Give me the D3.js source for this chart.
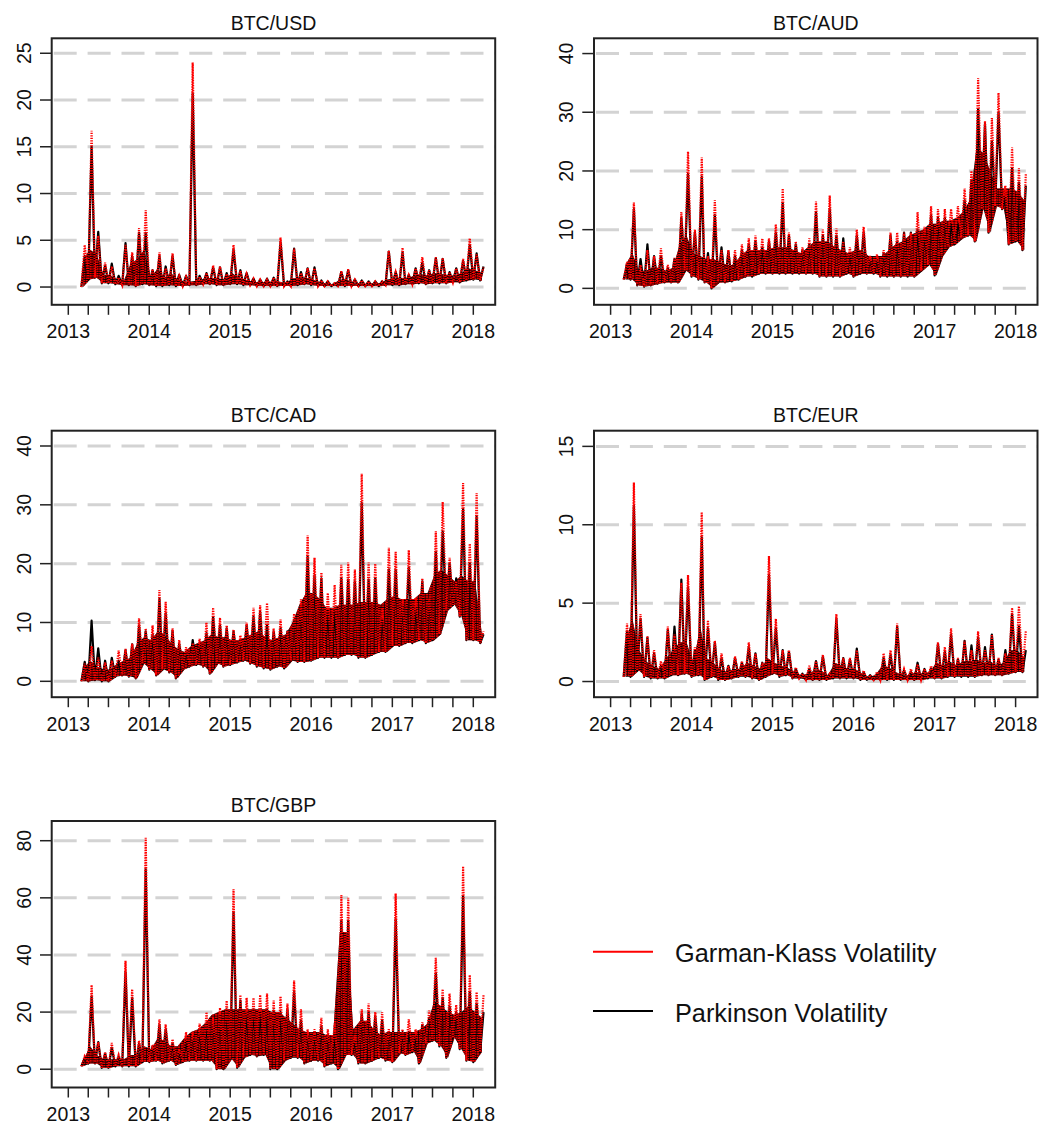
<!DOCTYPE html>
<html>
<head>
<meta charset="utf-8">
<script src="https://cdn.jsdelivr.net/npm/d3@7"></script>
<style>
  body { margin: 0; background: #fff; }
  text { font-family: "Liberation Sans", Arial, sans-serif; fill: #111; }
</style>
</head>
<body>
<svg id="chart"></svg>
<script>
// monthly readings, index 0 = March 2013 ... 59 = February 2018
// PkHi / GkHi = highest daily value in the month, Lo = lowest one,
// Core = top of the dense band where most days of the month sit
const usdPkHi = [3.3, 15, 5.9, 2.3, 2.5, 1.2, 4.7, 3.3, 5.8, 5.8,
  1.8, 3.3, 2.2, 3.3, 1.3, 1.2, 20.7, 1.2, 1.5, 2.1,
  2.1, 1.5, 4.0, 1.8, 1.5, 0.9, 0.8, 0.9, 1.0, 4.8,
  0.6, 4.1, 1.6, 2.0, 2.1, 0.7, 0.6, 0.4, 1.6, 1.8,
  0.8, 0.7, 0.6, 0.6, 0.6, 3.8, 1.6, 3.7, 1.3, 2.0,
  2.6, 1.8, 3.1, 3.0, 1.6, 2.0, 2.8, 4.5, 3.6, 2.2];
const usdGkHi = [4.5, 16.7, 5.5, 2.6, 2.2, 1.0, 4.5, 3.7, 6.3, 8.2,
  1.9, 3.7, 2.0, 3.6, 1.2, 1.1, 24.0, 1.1, 1.5, 2.3,
  2.2, 1.4, 4.5, 1.7, 1.4, 0.9, 0.8, 0.8, 1.0, 5.3,
  0.6, 4.1, 1.5, 2.0, 2.0, 0.7, 0.6, 0.4, 1.7, 1.9,
  0.8, 0.7, 0.6, 0.6, 0.6, 3.9, 1.6, 4.2, 1.3, 2.0,
  3.2, 1.8, 3.2, 3.1, 1.6, 2.0, 3.0, 5.2, 3.5, 2.1];
const usdLo = [0, 0.8, 1.0, 0.4, 0.4, 0.3, 0.2, 0.2, 0.1, 0.3,
  0.2, 0.1, 0.1, 0.2, 0.1, 0.1, 0.2, 0.2, 0.3, 0.3,
  0.2, 0.2, 0.3, 0.3, 0.2, 0.2, 0.1, 0.1, 0.1, 0.1,
  0.1, 0.1, 0.2, 0.3, 0.2, 0.1, 0.1, 0.1, 0.1, 0.1,
  0.1, 0.1, 0.1, 0.1, 0.1, 0.2, 0.2, 0.2, 0.3, 0.3,
  0.4, 0.3, 0.4, 0.4, 0.4, 0.5, 0.5, 0.7, 0.8, 0.7];
const usdCore = [3.0, 4.0, 3.5, 1.3, 1.3, 0.8, 0.7, 2.5, 3.0, 4.0,
  1.0, 2.0, 1.0, 1.5, 0.8, 0.6, 0.6, 0.7, 0.9, 1.0,
  0.9, 0.8, 1.5, 1.0, 0.8, 0.6, 0.5, 0.5, 0.6, 0.6,
  0.4, 0.9, 1.0, 1.0, 0.8, 0.5, 0.4, 0.3, 0.8, 0.8,
  0.4, 0.4, 0.3, 0.4, 0.4, 0.8, 0.9, 1.0, 0.9, 1.2,
  1.4, 1.2, 1.5, 1.4, 1.3, 1.2, 1.5, 2.0, 1.8, 1.5];

const audPkHi = [4, 13.5, 5, 7.5, 5.5, 5.5, 3.5, 5, 12, 19.5,
  9.5, 19, 6, 12.5, 7, 6.3, 5.5, 6.5, 7.5, 8,
  7, 8, 9.5, 14.5, 9, 7.5, 6.5, 7.5, 13, 9,
  13.5, 9, 8.5, 6, 9, 9.5, 5, 5, 6, 9,
  8, 9.5, 9.5, 10, 9.5, 12.5, 12, 12, 11, 11,
  15, 18.5, 30.5, 28, 25, 30, 15.5, 20.5, 18, 17.5];
const audGkHi = [4.5, 14.6, 4, 6.5, 5.5, 6.8, 4, 5.2, 13, 23.3,
  10, 22.3, 5.5, 15, 6.5, 6.5, 6.5, 7.5, 8.5, 9,
  8.5, 8.5, 10.9, 17, 9.5, 8, 7, 8.5, 14.8, 10,
  15.8, 10.2, 8, 7, 10, 10.5, 5.5, 5.8, 6.5, 9.5,
  9.5, 9.5, 9.5, 13, 10.5, 14, 13.5, 13.5, 13.5, 14,
  17, 20, 35.8, 28.5, 29, 33.3, 17.5, 24, 20.5, 19.5];
const audLo = [1.5, 1.5, 0.5, 0.3, 0.5, 0.8, 1, 1, 1, 3,
  2, 1.5, 1, 0, 1, 1, 1.2, 1.5, 2, 2,
  2.5, 2.5, 2.5, 2.5, 2.5, 2.5, 2.5, 2.5, 2.5, 2,
  2, 2, 2, 2.5, 2, 2.5, 2.5, 2.5, 2, 2,
  2, 2, 2, 2, 3, 4, 2.2, 5.5, 7, 7.5,
  8.5, 9, 8, 13.5, 9.5, 14, 13.5, 7.5, 8, 6.5];
const audCore = [4, 6, 3, 3, 3.5, 3.5, 3, 3.5, 7.5, 9,
  6, 5.5, 5, 5, 4.5, 4, 4, 5.5, 6.5, 6.5,
  6.5, 6.5, 7, 7, 7, 6.5, 6, 7, 8, 8,
  8, 7, 6.5, 6, 6.5, 6.5, 5.5, 5.5, 5.5, 6.5,
  7.5, 8, 9, 9.5, 10, 11, 11, 11.5, 11.5, 12,
  13, 15, 24, 23, 20, 17, 17, 17, 16.5, 15];

const cadPkHi = [3.3, 10.3, 5.6, 3.5, 4.0, 3.5, 5.3, 6.3, 9.5, 8.5,
  8.0, 14, 11.5, 8.6, 6.4, 5.0, 7.0, 6.5, 8.2, 10.9,
  9.5, 9.0, 8.5, 7.0, 9.5, 11, 11.8, 9.6, 8.5, 9.0,
  8.5, 10.5, 12.5, 21.2, 18, 17.5, 12, 12, 17.5, 17.3,
  17, 30.3, 17.3, 17.5, 10.5, 19, 19, 13, 19.3, 12.5,
  17, 13.5, 22, 25.5, 20, 17.5, 29.3, 20, 28, 8];
const cadGkHi = [3.0, 6.0, 4.0, 3.2, 3.5, 5.2, 5.5, 6.4, 10.7, 9.0,
  9.5, 15.5, 13.5, 9.0, 7.0, 5.8, 6.5, 7.2, 10, 12.5,
  10.8, 9.5, 8.8, 7.8, 10, 12.5, 12.9, 13.3, 9.0, 10.5,
  8.6, 11.5, 14, 24.8, 21, 18.5, 15, 16.4, 19.8, 20.2,
  19, 35.3, 20.2, 20, 12.5, 22.7, 22, 14, 22.3, 14.2,
  17.5, 14, 25.5, 30.5, 21, 17, 33.7, 23.4, 32, 8.5];
const cadLo = [0, 0, 0.2, 0, 0, 0.8, 1.0, 0.8, 0.5, 3.0,
  2.0, 1.0, 2.0, 1.5, 0.5, 2.0, 2.5, 2.8, 2.5, 1.3,
  3.0, 2.5, 2.8, 3.2, 3.5, 3.0, 2.5, 2.2, 2.0, 2.5,
  2.2, 3.5, 3.3, 3.3, 3.5, 4.0, 4.0, 4.0, 4.0, 4.5,
  4.5, 4.0, 4.0, 4.5, 5.0, 5.0, 6.0, 6.0, 6.5, 6.5,
  7.0, 6.5, 7.0, 8.0, 12, 13, 11, 7.0, 7.0, 6.5];
const cadCore = [2, 3.5, 2.5, 2, 2, 3, 3.5, 4, 6.5, 7.5,
  7, 8.5, 8, 6.5, 5.5, 5, 6, 6.5, 7, 8,
  7.5, 7.5, 7, 7, 7.5, 8, 8.5, 7.5, 7, 7.5,
  8, 10, 13, 15, 15, 14, 12.5, 12.5, 13, 13,
  13, 13.5, 13.5, 13.5, 13, 14, 14.5, 14, 14, 14,
  15, 15, 18, 19, 18, 17, 18, 17, 17, 8];

const eurPkHi = [3.2, 11.2, 4.0, 2.8, 1.8, 1.0, 3.3, 3.5, 6.5, 6.0,
  2.0, 9.2, 3.4, 2.5, 1.5, 1.0, 1.5, 1.2, 2.2, 1.8,
  1.2, 6.8, 3.4, 2.0, 1.9, 0.8, 0.5, 0.8, 1.3, 1.6,
  0.5, 4.0, 1.5, 1.4, 2.1, 0.6, 0.4, 0.5, 1.5, 1.7,
  3.5, 0.7, 0.6, 1.2, 0.8, 0.8, 2.4, 1.9, 3.0, 1.4,
  2.6, 2.3, 2.8, 2.2, 3.0, 1.4, 2.0, 4.3, 3.5, 2.0];
const eurGkHi = [3.7, 12.7, 4.3, 2.9, 2.0, 1.3, 3.5, 3.0, 6.3, 6.8,
  2.2, 10.8, 3.9, 2.6, 1.8, 1.0, 1.6, 1.3, 2.5, 1.8,
  1.2, 8.0, 4.0, 2.0, 2.0, 0.9, 0.5, 1.0, 1.3, 1.7,
  0.5, 4.3, 1.5, 1.5, 2.0, 0.7, 0.4, 0.6, 1.8, 2.0,
  3.7, 0.8, 0.8, 1.1, 0.8, 1.0, 2.5, 2.2, 3.4, 1.5,
  2.6, 2.0, 3.2, 2.0, 3.0, 1.5, 1.8, 4.7, 4.8, 3.2];
const eurLo = [0.3, 0.3, 0.7, 0.3, 0.2, 0.2, 0.2, 0.4, 0.4, 0.5,
  0.3, 0.4, 0.1, 0.3, 0.1, 0.1, 0.2, 0.3, 0.3, 0.2,
  0.1, 0.3, 0.5, 0.3, 0.4, 0.2, 0.2, 0.1, 0.1, 0.1,
  0.1, 0.2, 0.2, 0.2, 0.2, 0.1, 0.1, 0.1, 0.1, 0.1,
  0.1, 0.1, 0.1, 0.1, 0.1, 0.2, 0.2, 0.2, 0.3, 0.3,
  0.3, 0.3, 0.3, 0.4, 0.4, 0.4, 0.4, 0.5, 0.6, 0.6];
const eurCore = [2.5, 4, 2, 1.3, 1.0, 0.8, 1.5, 2.0, 2.5, 2.5,
  1.2, 3.5, 1.5, 1.2, 0.8, 0.6, 0.8, 0.8, 1.2, 1.0,
  0.8, 1.5, 1.2, 1.0, 0.9, 0.6, 0.4, 0.5, 0.7, 0.7,
  0.4, 1.2, 1.0, 0.8, 0.8, 0.5, 0.3, 0.4, 1.0, 0.9,
  0.6, 0.4, 0.4, 0.6, 0.5, 0.6, 1.2, 1.0, 1.3, 1.0,
  1.3, 1.3, 1.4, 1.2, 1.3, 1.0, 1.2, 2.0, 2.0, 1.5];

const gbpPkHi = [4, 25.5, 9.5, 5.5, 7.5, 4.5, 34, 25, 9, 70,
  8, 15.5, 14, 9, 6, 10.5, 12, 14, 16, 17,
  19, 21, 55, 24, 20, 21, 20, 21, 20.5, 20,
  21, 27, 17, 12, 12, 15, 12, 12, 52, 52,
  10, 19.5, 20, 18.5, 17, 13, 52.5, 13, 13, 12,
  15.5, 18, 33.5, 25, 22, 20, 60.5, 27, 23, 20];
const gbpGkHi = [4.5, 29.5, 9.5, 6, 9.2, 5, 38, 28, 10, 81,
  8.5, 17.5, 15.7, 10.5, 7, 13, 13, 16, 20, 18,
  21.5, 24, 63, 26, 25, 25, 26, 26.5, 24, 25.5,
  23, 31, 21, 14, 14, 18, 14, 16, 61, 60,
  12, 21, 23, 20, 20, 14, 61.5, 14, 17.5, 14,
  16.5, 20.5, 39, 28, 26.5, 22.5, 71, 33, 27, 26];
const gbpLo = [1, 2, 2, 0.5, 0.5, 1, 1, 1, 1, 2.5,
  2.5, 3, 2, 3, 1.5, 2.5, 3, 3, 3, 3,
  0, 0, 3.5, 0.5, 4, 5, 4.5, 5, 0, 0,
  3, 4, 4, 2, 3, 3, 1, 2, 0, 5,
  5, 2, 2, 3, 4, 3, 2.5, 5.5, 5, 6,
  2, 9, 10, 8, 4, 11, 7, 3, 2.5, 6];
const gbpCore = [3, 8, 5, 3.5, 3.5, 3.5, 3.5, 5, 5, 8,
  7, 11, 10, 8, 8, 11, 13, 14, 16, 19,
  20, 21, 21, 21, 21, 21, 21, 21, 20, 20,
  18, 16, 14, 13, 13, 13, 12, 12, 48, 48,
  14, 17, 17, 14, 12, 13, 13, 13, 13, 13,
  14, 16, 24, 22, 20, 19, 20, 22, 20, 18];

const usdTicks = [0, 5, 10, 15, 20, 25];
const audTicks = [0, 10, 20, 30, 40];
const cadTicks = [0, 10, 20, 30, 40];
const eurTicks = [0, 5, 10, 15];
const gbpTicks = [0, 20, 40, 60, 80];
const yearLabels = [2013, 2014, 2015, 2016, 2017, 2018];
const legendLabels = ["Garman-Klass Volatility", "Parkinson Volatility"];

// page layout
const width = 1042;
const height = 1127;
const colLeft = [51.7, 594];
const rowTop = [38.3, 430.7, 821];
const plotW = 443.5;
const plotH = 266.5;

const panels = [
  { title: "BTC/USD", pk: usdPkHi, gk: usdGkHi, lo: usdLo, core: usdCore, ticks: usdTicks, ylim: [-1.9, 26.6], col: 0, row: 0 },
  { title: "BTC/AUD", pk: audPkHi, gk: audGkHi, lo: audLo, core: audCore, ticks: audTicks, ylim: [-2.8, 42.6], col: 1, row: 0 },
  { title: "BTC/CAD", pk: cadPkHi, gk: cadGkHi, lo: cadLo, core: cadCore, ticks: cadTicks, ylim: [-2.7, 42.6], col: 0, row: 1 },
  { title: "BTC/EUR", pk: eurPkHi, gk: eurGkHi, lo: eurLo, core: eurCore, ticks: eurTicks, ylim: [-1.0, 16.0], col: 1, row: 1 },
  { title: "BTC/GBP", pk: gbpPkHi, gk: gbpGkHi, lo: gbpLo, core: gbpCore, ticks: gbpTicks, ylim: [-6.4, 86.9], col: 0, row: 2 }
];

const months = d3.range(usdLo.length).map(i => new Date(2013, 2 + i, 1));

// lowest value at the start of the month, highest around the middle
function toSeries(hi, lo) {
  const pts = [];
  months.forEach((m, i) => {
    pts.push({ date: m, v: lo[i] });
    pts.push({ date: d3.timeDay.offset(m, 15), v: hi[i] });
  });
  return pts;
}

const svg = d3.select('svg#chart').attr('width', width).attr('height', height);

// red dotted texture for the dense part of the Garman-Klass series
const defs = svg.append('defs');
defs.append('pattern').attr('id', 'gkDots')
  .attr('patternUnits', 'userSpaceOnUse')
  .attr('width', 3.4).attr('height', 2.3)
  .append('rect').attr('width', 2.8).attr('height', 1.4).attr('fill', '#ff0000');

const x = d3.scaleTime()
  .domain([new Date(2013, 0, 1), new Date(2018, 0, 1)])
  .range([16.6, 421.6]);
const quarterTicks = d3.timeMonth.every(3).range(new Date(2013, 0, 1), new Date(2018, 0, 2));

panels.forEach((p, k) => {
  const g = svg.append('g')
    .attr('transform', 'translate(' + colLeft[p.col] + ',' + rowTop[p.row] + ')');

  const y = d3.scaleLinear().domain(p.ylim).range([plotH, 0]);

  g.append('clipPath').attr('id', 'clip' + k)
    .append('rect').attr('width', plotW).attr('height', plotH);

  // dashed grey reference lines
  g.append('g').selectAll('line').data(p.ticks).enter().append('line')
    .attr('x1', 2).attr('x2', plotW)
    .attr('y1', d => y(d)).attr('y2', d => y(d))
    .attr('stroke', '#d3d3d3').attr('stroke-width', 3)
    .attr('stroke-dasharray', '23 10.9');

  const data = g.append('g').attr('clip-path', 'url(#clip' + k + ')');

  // dense band: lowest value up to the core level of each month
  const band = months.map((m, i) => ({ date: d3.timeDay.offset(m, 8), lo: p.lo[i], top: p.core[i] }));
  const area = d3.area().x(d => x(d.date)).y0(d => y(d.lo)).y1(d => y(d.top));
  data.append('path').attr('d', area(band)).attr('fill', '#000');
  data.append('path').attr('d', area(band)).attr('fill', 'url(#gkDots)');

  const line = d3.line().x(d => x(d.date)).y(d => y(d.v));

  data.append('path')
    .attr('d', line(toSeries(p.pk, p.lo)))
    .attr('fill', 'none').attr('stroke', '#000')
    .attr('stroke-width', 2.2).attr('stroke-linejoin', 'round');

  data.append('path')
    .attr('d', line(toSeries(p.gk, p.lo)))
    .attr('fill', 'none').attr('stroke', '#ff0000')
    .attr('stroke-width', 2.2).attr('stroke-dasharray', '1.4 1.1');

  // frame
  g.append('rect').attr('width', plotW).attr('height', plotH)
    .attr('fill', 'none').attr('stroke', '#222').attr('stroke-width', 2);

  // y axis
  g.append('g').selectAll('line').data(p.ticks).enter().append('line')
    .attr('x1', -11.7).attr('x2', 0)
    .attr('y1', d => y(d)).attr('y2', d => y(d))
    .attr('stroke', '#222').attr('stroke-width', 1.5);
  g.append('g').selectAll('text').data(p.ticks).enter().append('text')
    .attr('transform', d => 'translate(-20.7,' + y(d) + ') rotate(-90)')
    .attr('text-anchor', 'middle')
    .style('font-size', '19.5px')
    .text(d => d);

  // x axis
  g.append('g').selectAll('line').data(quarterTicks).enter().append('line')
    .attr('x1', d => x(d)).attr('x2', d => x(d))
    .attr('y1', plotH).attr('y2', plotH + 10)
    .attr('stroke', '#222').attr('stroke-width', 1.5);
  g.append('g').selectAll('text').data(yearLabels).enter().append('text')
    .attr('x', d => x(new Date(d, 0, 1)))
    .attr('y', plotH + 33.5)
    .attr('text-anchor', 'middle')
    .style('font-size', '19.5px')
    .text(d => d);

  g.append('text')
    .attr('x', plotW / 2).attr('y', -8.6)
    .attr('text-anchor', 'middle')
    .style('font-size', '19.5px')
    .text(p.title);
});

// legend
const legend = svg.append('g').attr('transform', 'translate(593,951.7)');
const legendColors = ['#ff0000', '#000'];
legendLabels.forEach((label, i) => {
  const row = legend.append('g').attr('transform', 'translate(0,' + (i * 59.3) + ')');
  row.append('line').attr('x1', 0).attr('x2', 60)
    .attr('stroke', legendColors[i]).attr('stroke-width', 2);
  row.append('text').attr('x', 82).attr('y', 10.5)
    .style('font-size', '25.3px')
    .text(label);
});
</script>
</body>
</html>
